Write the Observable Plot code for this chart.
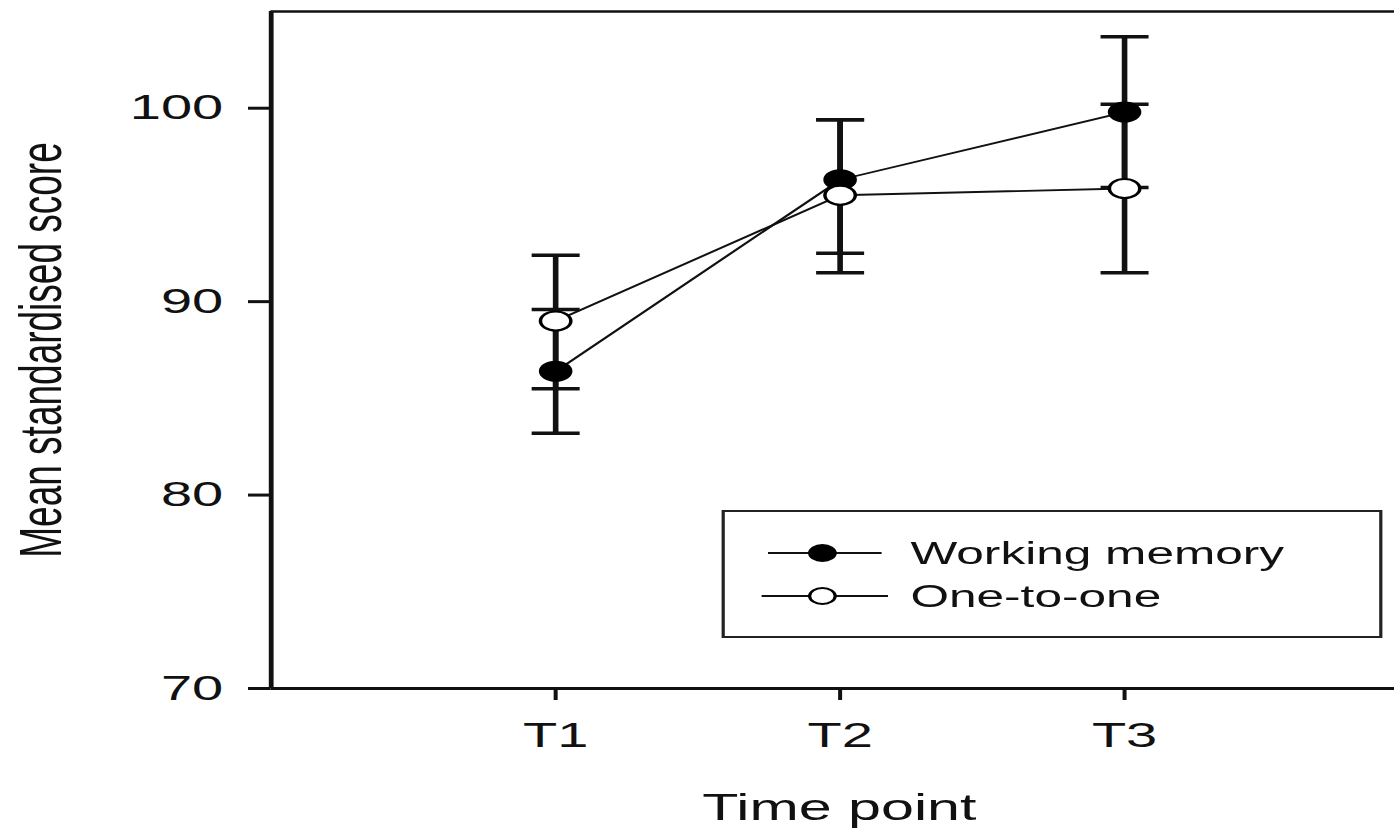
<!DOCTYPE html>
<html><head><meta charset="utf-8">
<script src="https://cdn.jsdelivr.net/npm/d3@7"></script>
<script src="https://cdn.jsdelivr.net/npm/@observablehq/plot@0.6"></script>
<style>
html,body{margin:0;padding:0;background:#fff;overflow:hidden;}
#wrap{position:relative;width:871.25px;height:830px;transform:scaleX(1.6);transform-origin:0 0;}
#legend{position:absolute;left:451px;top:510px;width:413px;height:128px;box-sizing:border-box;border:2.5px solid #222;background:#fff;}
#legend svg{position:absolute;left:-2.5px;top:-2.5px;overflow:visible;}
</style></head>
<body><div id="wrap"><div id="chart"></div><div id="legend"></div></div>
<script>
const timePoints = ["T1", "T2", "T3"];
const seriesNames = ["Working memory", "One-to-one"];
const wmMean = [86.4, 96.3, 99.8];
const wmLow = [83.2, 92.5, 95.9];
const wmHigh = [89.6, 99.4, 103.7];
const oneMean = [89.0, 95.5, 95.85];
const oneLow = [85.5, 91.5, 91.5];
const oneHigh = [92.4, 99.4, 100.2];
const yTicks = [70, 80, 90, 100];
const yLabel = "Mean standardised score";
const xLabel = "Time point";

const FONT = "'Liberation Sans', Arial, Helvetica, sans-serif";
const INK = "#111";

function rows(name, mean, low, high) {
  return timePoints.map((t, i) => ({series: name, t: i + 1, label: t, mean: mean[i], lo: low[i], hi: high[i]}));
}
const wmRows = rows(seriesNames[0], wmMean, wmLow, wmHigh);
const oneRows = rows(seriesNames[1], oneMean, oneLow, oneHigh);
const allRows = wmRows.concat(oneRows);

const cap = {draw(context, size) { const w = Math.sqrt(size / Math.PI); context.moveTo(-w, 0); context.lineTo(w, 0); }};

const chart = Plot.plot({
  width: 871.25,
  height: 830,
  marginLeft: 169,
  marginRight: 0,
  marginTop: 11,
  marginBottom: 142,
  style: {fontFamily: FONT, fontSize: "35px", color: INK, background: "#fff", overflow: "visible"},
  x: {type: "linear", domain: [0, 3.95]},
  y: {domain: [70, 105]},
  marks: [
    Plot.axisY({ticks: yTicks, tickSize: 14, tickPadding: 16, strokeWidth: 3, fontSize: 35, label: null, stroke: INK, fill: INK}),
    Plot.axisX({ticks: [1, 2, 3], tickFormat: d => timePoints[d - 1], tickSize: 12, tickPadding: 22, strokeWidth: 2.5, fontSize: 35, label: null, stroke: INK, fill: INK}),
    Plot.ruleX([0], {stroke: INK, strokeWidth: 3}),
    Plot.ruleY([70], {stroke: INK, strokeWidth: 3}),
    Plot.ruleY([105], {stroke: INK, strokeWidth: 2.5}),
    Plot.text([yLabel], {text: d => d, frameAnchor: "left", textAnchor: "middle", lineAnchor: "middle", rotate: -90, dx: -143, fontSize: 37, fill: INK}),
    Plot.text([xLabel], {text: d => d, frameAnchor: "bottom", textAnchor: "middle", lineAnchor: "top", dy: 105, dx: 4, fontSize: 37, fill: INK}),
    Plot.line(allRows, {x: "t", y: "mean", z: "series", stroke: INK, strokeWidth: 1.8}),
    Plot.ruleX(allRows, {x: "t", y1: "lo", y2: "hi", stroke: INK, strokeWidth: 3.5}),
    Plot.dot(allRows, {x: "t", y: "lo", symbol: cap, r: 15, stroke: INK, strokeWidth: 3.5, fill: "none"}),
    Plot.dot(allRows, {x: "t", y: "hi", symbol: cap, r: 15, stroke: INK, strokeWidth: 3.5, fill: "none"}),
    Plot.dot(wmRows, {x: "t", y: "mean", r: 9.5, fill: "#000", stroke: "#000", strokeWidth: 2}),
    Plot.dot(oneRows, {x: "t", y: "mean", r: 9.5, fill: "#fff", stroke: "#000", strokeWidth: 2.2})
  ]
});
document.getElementById("chart").appendChild(chart);

// Legend (inside the plot area)
const lg = d3.select("#legend").append("svg").attr("width", 413).attr("height", 128);
const items = [
  {name: seriesNames[0], fill: "#000", y: 43, x1: 29, x2: 100},
  {name: seriesNames[1], fill: "#fff", y: 86, x1: 25, x2: 104}
];
const g = lg.selectAll("g").data(items).join("g").attr("transform", d => `translate(0,${d.y})`);
g.append("line").attr("x1", d => d.x1).attr("x2", d => d.x2).attr("stroke", INK).attr("stroke-width", 2);
g.append("circle").attr("cx", 63).attr("r", 8).attr("fill", d => d.fill).attr("stroke", "#000").attr("stroke-width", 2);
g.append("text").attr("x", 118).attr("y", 11).attr("font-family", FONT).attr("font-size", 31).attr("fill", INK).text(d => d.name);
</script>
</body></html>
